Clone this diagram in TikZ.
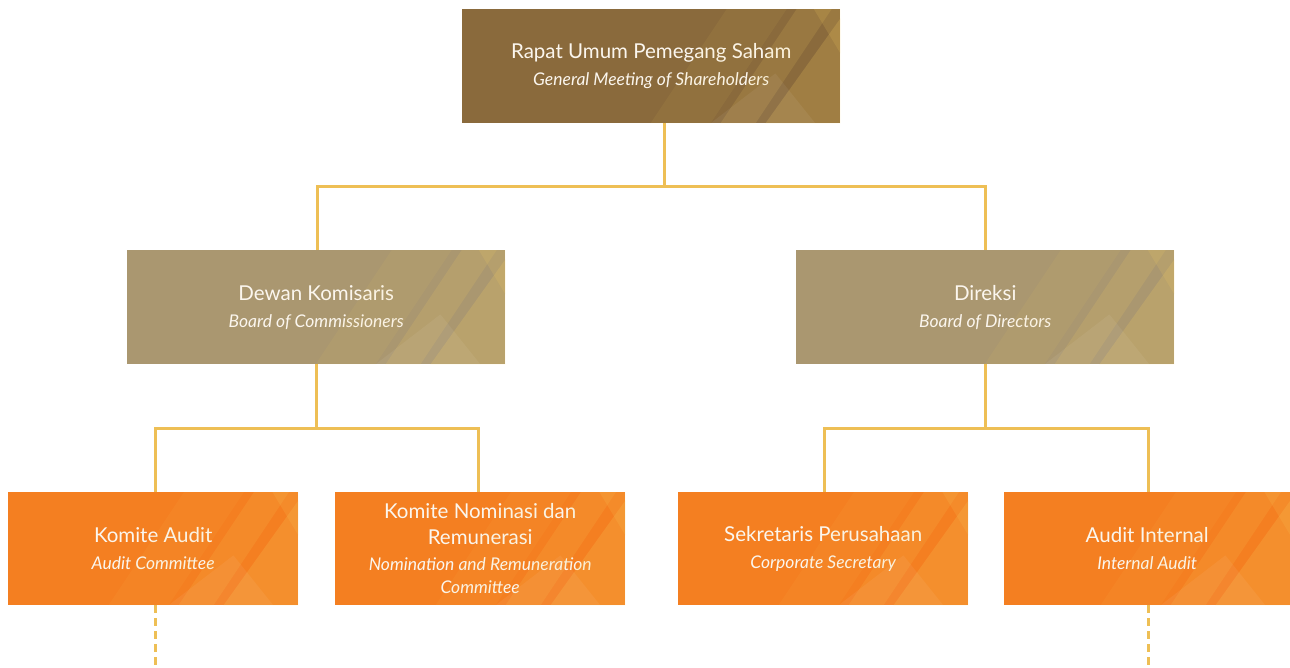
\documentclass[tikz,border=0pt]{standalone}
\usepackage{fontspec}
\setmainfont{Lato}
\usetikzlibrary{calc}
\definecolor{brownbox}{HTML}{8A6A3C}
\definecolor{khakibox}{HTML}{AA9770}
\definecolor{orangebox}{HTML}{F47F21}
\definecolor{linecol}{HTML}{EEBF55}
\definecolor{txtcol}{HTML}{FBF6EE}
\definecolor{glow}{HTML}{F8D060}
\tikzset{
  box/.style={draw=none, rectangle, inner sep=0pt, align=center, text=txtcol,
    font=\fontsize{20.5}{26}\selectfont, anchor=north west},
  wide/.style={box, minimum width=378pt, minimum height=114pt},
  small/.style={box, minimum width=290pt, minimum height=113pt, fill=orangebox},
  conn/.style={draw=linecol, line width=3pt},
  dconn/.style={conn, dash pattern=on 8pt off 5pt},
}
\newcommand{\en}[1]{{\fontsize{17.5}{23}\selectfont\itshape #1}}
\newcommand{\deco}[2]{%
  \begin{scope}
    \clip (#1.south west) rectangle (#1.north east);
    \begin{scope}[shift={(#1.south east)}]
      \fill[#2, opacity=0.07] (-190,0) -- (-110,-120) -- (-50,-120) -- (-130,0) -- cycle;
      \fill[#2, opacity=0.14] (-120,0) -- (-40,-120) -- (-5,-120) -- (-85,0) -- cycle;
      \fill[#2, opacity=0.20] (-75,0) -- (0,-105) -- (0,0) -- cycle;
      \fill[#2, opacity=0.15] (-30,-120) -- (0,-120) -- (0,-70) -- cycle;
      \fill[white, opacity=0.06] (-130,0) -- (-65,-50) -- (-25,0) -- cycle;
    \end{scope}
  \end{scope}}
\begin{document}
\begin{tikzpicture}[x=1pt, y=-1pt]
\useasboundingbox (0,0) rectangle (1290,667);
\node[wide, fill=brownbox] (rups) at (462,9) {Rapat Umum Pemegang Saham\\[1pt]\en{General Meeting of Shareholders}};
\node[wide, fill=khakibox] (dk) at (127,250) {Dewan Komisaris\\[1pt]\en{Board of Commissioners}};
\node[wide, fill=khakibox] (dir) at (796,250) {Direksi\\[1pt]\en{Board of Directors}};
\node[small] (ka) at (8,492) {Komite Audit\\[1pt]\en{Audit Committee}};
\node[small] (knr) at (335,492) {Komite Nominasi dan\\Remunerasi\\[0pt]\en{Nomination and Remuneration}\\[-3pt]\en{Committee}};
\node[small] (sp) at (678,492) {Sekretaris Perusahaan\\[1pt]\en{Corporate Secretary}};
\node[small, minimum width=286pt] (ai) at (1004,492) {Audit Internal\\[1pt]\en{Internal Audit}};
\deco{rups}{glow}
\deco{dk}{glow}
\deco{dir}{glow}
\deco{ka}{glow}
\deco{knr}{glow}
\deco{sp}{glow}
\deco{ai}{glow}
% tree lines
\coordinate (j0) at (664,186);
\draw[conn] (rups.south -| j0) -- (j0);
\draw[conn] (dk.north -| 317,0) |- (j0) -| (dir.north -| 985,0);
\coordinate (j1) at (316,428);
\draw[conn] (dk.south -| j1) -- (j1);
\draw[conn] (ka.north -| 155,0) |- (j1) -| (knr.north -| 478,0);
\coordinate (j2) at (985,428);
\draw[conn] (dir.south -| j2) -- (j2);
\draw[conn] (sp.north -| 824,0) |- (j2) -| (ai.north -| 1148,0);
\coordinate (e1) at (155,667);
\coordinate (e2) at (1148,667);
\draw[dconn] (ka.south -| e1) -- (e1);
\draw[dconn] (ai.south -| e2) -- (e2);
\end{tikzpicture}
\end{document}
